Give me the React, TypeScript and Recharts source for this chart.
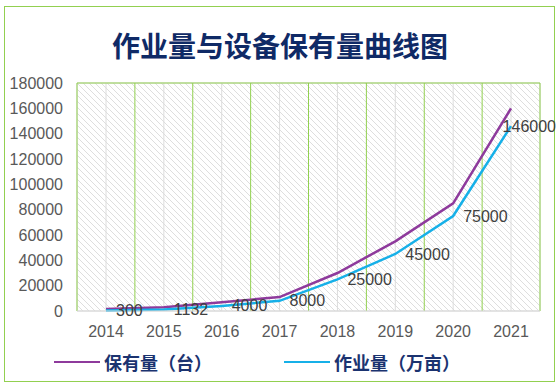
import React from 'react';
import { LineChart, Line, XAxis, YAxis, CartesianGrid, ReferenceLine } from 'recharts';

const years = ['2014', '2015', '2016', '2017', '2018', '2019', '2020', '2021'];
const holdings = [1500, 3000, 7000, 11000, 30000, 55000, 85000, 160000];
const workload = [300, 1132, 4000, 8000, 25000, 45000, 75000, 146000];
const yTicks = [0, 20000, 40000, 60000, 80000, 100000, 120000, 140000, 160000, 180000];
const minorTicks = [0, 10000, 20000, 30000, 40000, 50000, 60000, 70000, 80000, 90000, 100000, 110000, 120000, 130000, 140000, 150000, 160000, 170000, 180000];
const boundaryTicks = [0, 1, 2, 3, 4, 5, 6, 7, 8];
const seriesNames = ['保有量（台）', '作业量（万亩）'];
const seriesColors = ['#8e3a9c', '#16b0e8'];
const title = '作业量与设备保有量曲线图';

const data = years.map((y, i) => ({ year: y, holdings: holdings[i], workload: workload[i] }));

const GREEN = '#92d050';
const CJK = '"Noto Sans CJK SC", "Noto Sans", sans-serif';
const LAT = '"Liberation Sans", Arial, sans-serif';

const DataLabel = (props: any) => {
  const { x, y, value } = props;
  const txt = String(value);
  const w = txt.length * 8.9;
  let tx = x + 10;
  if (tx + w > 556) tx = 556 - w;
  return (
    <text x={tx} y={y} dy={5.5} fontSize={16} fill="#404040" fontFamily={LAT} textAnchor="start">
      {txt}
    </text>
  );
};

const boundaryGenerator = (props: any) => {
  const off = props.offset;
  const n = years.length;
  return boundaryTicks.map((t) => off.left + (t * off.width) / n);
};

export default function App() {
  return (
    <div style={{ position: 'absolute', left: 0, top: 0, width: 560, height: 384, background: '#fff' }}>
      <div
        style={{
          position: 'absolute', left: 4, top: 6, width: 549, height: 374,
          border: `1px solid ${GREEN}`, boxSizing: 'content-box', pointerEvents: 'none',
        }}
      />
      <div
        style={{
          position: 'absolute', left: 0, top: 25, width: 560, textAlign: 'center',
          fontFamily: CJK, fontWeight: 700, fontSize: 28, color: '#0f2a66', lineHeight: '40px',
        }}
      >
        {title}
      </div>
      <LineChart
        width={560}
        height={384}
        data={data}
        margin={{ top: 83, right: 20, bottom: 43, left: 0 }}
        style={{ position: 'absolute', left: 0, top: 0 }}
      >
        <defs>
          <pattern id="hatch" width="6" height="6" patternUnits="userSpaceOnUse">
            <rect width="6" height="6" fill="#ffffff" />
            <path d="M-1,-1 L7,7 M-1,5 L1,7 M5,-1 L7,1" stroke="#dedede" strokeWidth="1" />
          </pattern>
        </defs>
        <XAxis
          dataKey="year"
          height={30}
          padding={{ left: 29, right: 29 }}
          axisLine={{ stroke: '#d9d9d9' }}
          tickLine={false}
          tickSize={0}
          tickMargin={15}
          tick={{ fontSize: 16, fill: '#595959', fontFamily: LAT }}
        />
        <YAxis
          domain={[0, 180000]}
          ticks={yTicks}
          interval={0}
          width={77}
          axisLine={false}
          tickLine={false}
          tickSize={0}
          tickMargin={14}
          tick={{ fontSize: 16, fill: '#595959', fontFamily: LAT }}
        />
        <YAxis yAxisId="m" domain={[0, 180000]} ticks={minorTicks} interval={0} hide />
        <CartesianGrid
          yAxisId="m"
          fill="url(#hatch)"
          stroke="#dcdcdc"
          strokeWidth={1}
          vertical={true}
          horizontal={true}
        />
        <CartesianGrid
          horizontal={false}
          vertical={true}
          stroke={GREEN}
          strokeWidth={1}
          verticalCoordinatesGenerator={boundaryGenerator}
        />
        <ReferenceLine y={180000} stroke={GREEN} strokeWidth={1} />
        <Line
          dataKey="holdings"
          name={seriesNames[0]}
          stroke={seriesColors[0]}
          strokeWidth={2.5}
          dot={false}
          isAnimationActive={false}
        />
        <Line
          dataKey="workload"
          name={seriesNames[1]}
          stroke={seriesColors[1]}
          strokeWidth={2.5}
          dot={false}
          isAnimationActive={false}
          label={<DataLabel />}
        />
      </LineChart>
      <div
        style={{
          position: 'absolute', left: 0, top: 350, width: 560, display: 'flex',
          paddingLeft: 54, boxSizing: 'border-box', fontFamily: CJK,
        }}
      >
        {seriesNames.map((n, i) => (
          <div key={n} style={{ width: 230, display: 'flex', alignItems: 'center' }}>
            <div style={{ width: 46, height: 2, background: seriesColors[i], marginRight: 4 }} />
            <span style={{ fontSize: 18, fontWeight: 700, color: '#1b3370', lineHeight: '24px' }}>{n}</span>
          </div>
        ))}
      </div>
    </div>
  );
}
